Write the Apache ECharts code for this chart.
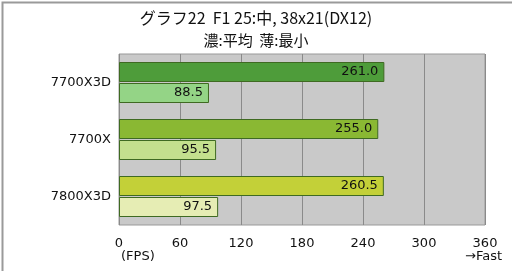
<!DOCTYPE html>
<html>
<head>
<meta charset="utf-8">
<script src="https://cdn.jsdelivr.net/npm/echarts@6/dist/echarts.min.js"></script>
<style>
  html, body { margin: 0; padding: 0; background: #fff; }
  #chart { width: 512px; height: 271px; }
</style>
</head>
<body>
<div id="chart"></div>
<script>
var categories = ["7700X3D", "7700X", "7800X3D"];
var avgValues = [261.0, 255.0, 260.5];
var minValues = [88.5, 95.5, 97.5];
var avgColors = ["#4e9c3a", "#8ab833", "#c3d038"];
var minColors = ["#94d486", "#c4e08e", "#e6edb4"];
var xTicks = [0, 60, 120, 180, 240, 300, 360];

var myChart = echarts.init(document.getElementById("chart"));
var font = "'DejaVu Sans', Verdana, sans-serif";
var jpFont = "'Noto Sans CJK JP', sans-serif";

function items(vals, colors) {
  return vals.map(function (v, i) {
    return { value: v, itemStyle: { color: colors[i] } };
  });
}

var labelOpt = {
  show: true,
  position: "insideRight",
  distance: 6,
  color: "#111",
  fontSize: 13,
  fontFamily: font,
  formatter: function (p) { return p.value.toFixed(1); }
};

var option = {
  animation: false,
  title: {
    text: "グラフ22  F1 25:中, 38x21(DX12)",
    subtext: "濃:平均  薄:最小",
    left: "center",
    top: 5,
    itemGap: 7,
    textStyle: { fontSize: 16, fontWeight: "normal", color: "#111", fontFamily: jpFont },
    subtextStyle: { fontSize: 15, color: "#111", fontFamily: jpFont }
  },
  grid: { left: 119, top: 54, width: 366, height: 171, backgroundColor: "#c9c9c9", show: true, borderColor: "#999", borderWidth: 1 },
  xAxis: {
    type: "value",
    min: 0,
    max: 360,
    interval: 60,
    axisLine: { show: false },
    axisTick: { show: false },
    splitLine: { show: true, lineStyle: { color: "#8a8a8a", width: 1 } },
    axisLabel: { margin: 12, color: "#111", fontSize: 13, fontFamily: font,
      formatter: function (v) { return xTicks.indexOf(v) >= 0 ? String(v) : ""; } }
  },
  yAxis: {
    type: "category",
    data: categories,
    inverse: true,
    axisLine: { show: false },
    axisTick: { show: false },
    axisLabel: { margin: 8, color: "#111", fontSize: 13, fontFamily: font }
  },
  series: [
    {
      name: "平均",
      type: "bar",
      data: items(avgValues, avgColors),
      barWidth: 20,
      barGap: "5%",
      itemStyle: { borderColor: "#3f6a22", borderWidth: 1 },
      label: labelOpt
    },
    {
      name: "最小",
      type: "bar",
      data: items(minValues, minColors),
      barWidth: 20,
      itemStyle: { borderColor: "#3f6a22", borderWidth: 1 },
      label: labelOpt
    }
  ],
  graphic: [
    { type: "rect", left: 0, top: 0, z: 100, silent: true,
      shape: { x: 0.5, y: 0.5, width: 510.5, height: 269.5 },
      style: { fill: "none", stroke: "#9a9a9a", lineWidth: 2 } },
    { type: "text", left: 121, top: 250, style: { text: "(FPS)", fontSize: 13, fill: "#111", fontFamily: font } },
    { type: "text", right: 10, top: 250, style: { text: "→Fast", fontSize: 13, fill: "#111", fontFamily: font } }
  ]
};
option && myChart.setOption(option);
</script>
</body>
</html>
